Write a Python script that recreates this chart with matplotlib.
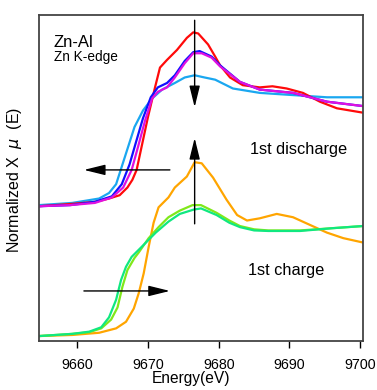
import matplotlib
matplotlib.use("Agg")
import matplotlib.pyplot as plt

plt.rcParams['font.family'] = ['Liberation Sans', 'DejaVu Sans']

# ---- discharge series (offset stack) ----
red_E = [9654.6, 9659.0, 9662.6, 9664.5, 9666.0, 9667.1, 9667.8, 9668.4, 9669.1, 9670.0,
         9671.0, 9671.7, 9672.7, 9674.1, 9675.5, 9676.4, 9677.1, 9678.5, 9679.5, 9680.2,
         9681.6, 9683.4, 9685.8, 9687.6, 9689.6, 9691.9, 9694.3, 9696.7, 9700.4]
red_y = [1.18, 1.20, 1.22, 1.25, 1.28, 1.35, 1.42, 1.51, 1.72, 1.99,
         2.26, 2.44, 2.51, 2.60, 2.71, 2.76, 2.75, 2.65, 2.54, 2.46,
         2.35, 2.28, 2.26, 2.27, 2.25, 2.21, 2.13, 2.07, 2.03]

cyan_E = [9654.6, 9659.3, 9663.1, 9664.5, 9665.5, 9666.3, 9667.2, 9668.1, 9669.3, 9670.6,
          9672.0, 9673.8, 9675.2, 9676.6, 9678.0, 9679.5, 9682.0, 9685.8, 9690.5, 9695.3,
          9700.4]
cyan_y = [1.19, 1.21, 1.25, 1.30, 1.38, 1.54, 1.72, 1.90, 2.05, 2.16,
          2.24, 2.30, 2.35, 2.37, 2.35, 2.33, 2.25, 2.21, 2.19, 2.17,
          2.17]

blue_E = [9654.6, 9659.0, 9662.5, 9664.9, 9666.3, 9667.4, 9668.3, 9669.3, 9670.4, 9671.4,
          9672.7, 9673.8, 9675.2, 9676.4, 9677.3, 9679.0, 9680.2, 9683.0, 9685.8, 9690.5,
          9695.3, 9700.4]
blue_y = [1.18, 1.19, 1.22, 1.27, 1.38, 1.56, 1.76, 1.98, 2.17, 2.26,
          2.30, 2.37, 2.50, 2.58, 2.59, 2.54, 2.46, 2.31, 2.24, 2.21,
          2.13, 2.09]

mag_E = [9654.6, 9659.0, 9662.5, 9664.9, 9666.5, 9667.7, 9668.6, 9669.6, 9670.6, 9671.4,
         9672.7, 9673.8, 9675.2, 9676.4, 9677.6, 9679.0, 9680.2, 9683.0, 9685.8, 9690.5,
         9695.3, 9700.4]
mag_y = [1.18, 1.19, 1.21, 1.26, 1.35, 1.51, 1.72, 1.96, 2.16, 2.22,
         2.26, 2.35, 2.48, 2.57, 2.57, 2.53, 2.45, 2.31, 2.24, 2.21,
         2.13, 2.09]

# ---- charge series ----
orange_E = [9654.6, 9659.3, 9663.1, 9665.5, 9666.9, 9668.0, 9668.7, 9669.4, 9670.1, 9670.8,
            9671.5, 9672.9, 9673.8, 9675.5, 9676.6, 9677.6, 9679.2, 9681.1, 9682.6, 9684.0,
            9685.8, 9688.2, 9690.5, 9692.9, 9695.3, 9697.6, 9700.4]
orange_y = [0.00, 0.01, 0.03, 0.07, 0.13, 0.25, 0.39, 0.57, 0.81, 1.03,
            1.17, 1.26, 1.35, 1.45, 1.58, 1.57, 1.44, 1.24, 1.10, 1.05,
            1.07, 1.11, 1.08, 1.01, 0.94, 0.89, 0.85]

teal_E = [9654.6, 9659.3, 9661.7, 9663.4, 9664.5, 9665.5, 9666.2, 9666.9, 9667.7, 9669.1,
          9671.1, 9672.9, 9674.5, 9676.5, 9677.5, 9679.7, 9681.5, 9683.0, 9685.0, 9687.0,
          9691.5, 9696.0, 9700.4]
teal_y = [0.00, 0.02, 0.04, 0.08, 0.17, 0.33, 0.51, 0.63, 0.72, 0.81,
          0.94, 1.04, 1.11, 1.15, 1.16, 1.10, 1.03, 0.99, 0.96, 0.955,
          0.955, 0.98, 1.00]

lime_E = [9654.6, 9659.3, 9661.7, 9663.4, 9664.8, 9665.7, 9666.4, 9667.1, 9668.1, 9668.7,
          9670.1, 9671.5, 9672.9, 9674.5, 9676.3, 9677.5, 9679.7, 9681.5, 9683.0, 9685.0,
          9687.0, 9691.5, 9696.0, 9700.4]
lime_y = [0.00, 0.02, 0.035, 0.07, 0.15, 0.26, 0.45, 0.60, 0.71, 0.76,
          0.89, 0.99, 1.08, 1.14, 1.19, 1.19, 1.12, 1.05, 1.00, 0.97,
          0.96, 0.96, 0.98, 1.00]

x_ticks = [9660, 9670, 9680, 9690, 9700]

fig = plt.figure(figsize=(3.77, 3.90), dpi=100)
ax = fig.add_axes([0.1034, 0.1256, 0.8596, 0.836])

lw = 1.6
ax.plot(cyan_E, cyan_y, color='#1aa7f0', lw=lw)
ax.plot(red_E, red_y, color='#ff0a0a', lw=lw)
ax.plot(blue_E, blue_y, color='#1010ff', lw=lw)
ax.plot(mag_E, mag_y, color='#e010e0', lw=lw)
ax.plot(orange_E, orange_y, color='#ffa500', lw=lw)
ax.plot(lime_E, lime_y, color='#80e81a', lw=lw)
ax.plot(teal_E, teal_y, color='#10e880', lw=lw)

ak = dict(arrowstyle='-|>,head_length=1.3,head_width=0.32', color='black', lw=1.0,
          shrinkA=0, shrinkB=0)
ax.annotate('', xy=(9676.6, 2.08), xytext=(9676.6, 2.87), arrowprops=ak)
ax.annotate('', xy=(9676.6, 1.80), xytext=(9676.6, 1.02), arrowprops=ak)
ax.annotate('', xy=(9660.95, 1.51), xytext=(9673.1, 1.51), arrowprops=ak)
ax.annotate('', xy=(9673.1, 0.41), xytext=(9660.95, 0.41), arrowprops=ak)

ax.text(0.046, 0.902, 'Zn-Al', transform=ax.transAxes, fontsize=12, va='baseline')
ax.text(0.046, 0.859, 'Zn K-edge', transform=ax.transAxes, fontsize=9.8, va='baseline')
ax.text(0.651, 0.574, '1st discharge', transform=ax.transAxes, fontsize=11.8, va='baseline')
ax.text(0.645, 0.202, '1st charge', transform=ax.transAxes, fontsize=11.8, va='baseline')

ax.set_xlim(9654.6, 9700.4)
ax.set_ylim(-0.045, 2.918)
ax.set_xticks(x_ticks)
ax.set_xticklabels([str(t) for t in x_ticks])
ax.set_yticks([])
ax.tick_params(axis='x', direction='out', length=5, width=1, labelsize=10.3, pad=7)
for s in ax.spines.values():
    s.set_color('#444444')
    s.set_linewidth(1.3)
ax.set_xlabel('Energy(eV)', fontsize=11.2)
ax.xaxis.set_label_coords(0.47, -0.093)
ax.xaxis.label.set_va('top')
ax.set_ylabel('Normalized X  $\\mu$  (E)', fontsize=11.5)
ax.yaxis.set_label_coords(-0.045, 0.494)

fig.savefig('out.png', dpi=100)
